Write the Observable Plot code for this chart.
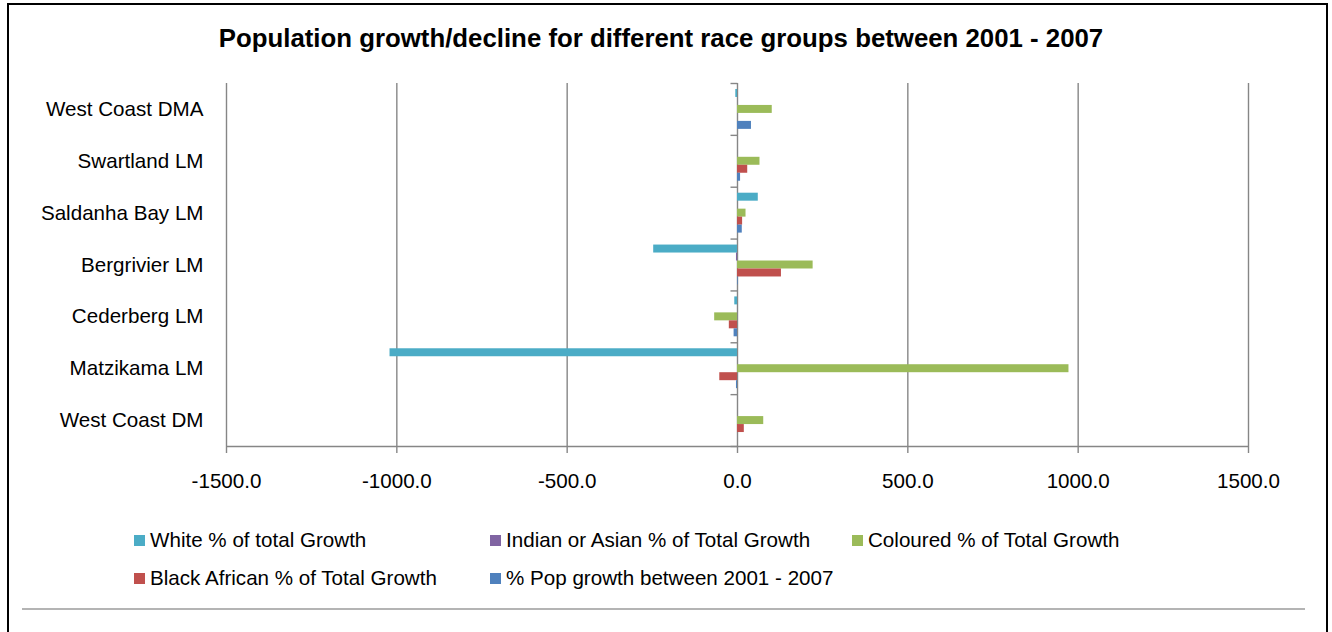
<!DOCTYPE html>
<html>
<head>
<meta charset="utf-8">
<script src="https://cdn.jsdelivr.net/npm/d3@7"></script>
<script src="https://cdn.jsdelivr.net/npm/@observablehq/plot@0.6"></script>
<style>
  body { margin: 0; background: #fff; font-family: "Liberation Sans", Arial, sans-serif; }
  #page { position: relative; width: 1332px; height: 632px; overflow: hidden; background: #fff; }
  #border { position: absolute; left: 7px; top: 3px; width: 1321px; height: 700px; border: 2px solid #000; box-sizing: border-box; pointer-events: none; }
  #title { position: absolute; left: 0; top: 23px; width: 1322px; text-align: center; font-weight: bold; font-size: 25.8px; color: #000; line-height: 30px; }
  #chart { position: absolute; left: 0; top: 60px; }
  #legend { position: absolute; left: 134px; top: 521px; display: grid; grid-template-columns: 356px 362px auto; grid-auto-rows: 38px; font-size: 20.6px; color: #000; }
  #legend .item { display: flex; align-items: center; white-space: nowrap; }
  #legend .sw { width: 11px; height: 11px; margin-right: 5px; flex: none; }
  #rule { position: absolute; left: 22px; top: 608px; width: 1283px; height: 2px; background: #b4b4b4; }
</style>
</head>
<body>
<div id="page">
  <div id="title">Population growth/decline for different race groups between 2001 - 2007</div>
  <div id="chart"></div>
  <div id="legend"></div>
  <div id="rule"></div>
  <div id="border"></div>
</div>
<script>
// Municipalities, top to bottom
const categories = ["West Coast DMA", "Swartland LM", "Saldanha Bay LM", "Bergrivier LM", "Cederberg LM", "Matzikama LM", "West Coast DM"];

// Series names and colours
const series = [
  "White % of total Growth",
  "Indian or Asian % of Total Growth",
  "Coloured % of Total Growth",
  "Black African % of Total Growth",
  "% Pop growth between 2001 - 2007"
];
const seriesColors = ["#4BACC6", "#8064A2", "#9BBB59", "#C0504D", "#4F81BD"];

// Values per series, in category order
const white    = [-5, 0, 61, -246, -8, -1020, 0];
const indian   = [0, 0, 0, -3, 0, 0, 0];
const coloured = [102, 66, 25, 222, -67, 973, 77];
const black    = [0, 30, 15, 129, -24, -52, 20];
const popGrowth = [41, 9, 14, 2, -10, -3, 0];

const xTicks = [-1500, -1000, -500, 0, 500, 1000, 1500];

const valuesBySeries = [white, indian, coloured, black, popGrowth];

// Each category band holds the five bars plus an outer gap of 0.75 bar on each side
const outerGap = 0.75;
const slots = series.length + 2 * outerGap;
const rows = [];
categories.forEach((cat, i) => {
  series.forEach((s, j) => {
    const y1 = i + (outerGap + j) / slots;
    rows.push({category: cat, series: s, value: valuesBySeries[j][i], y1, y2: y1 + 1 / slots});
  });
});

const gray = "#868686";
const fontSize = 20.6;

// Short left-pointing tick drawn at each category boundary on the zero axis
const leftTick = {
  draw(context, size) {
    const l = Math.sqrt(size / Math.PI);
    context.moveTo(-l, 0);
    context.lineTo(0, 0);
  }
};

const chart = Plot.plot({
  width: 1332,
  height: 436,
  marginLeft: 226,
  marginRight: 84,
  marginTop: 23,
  marginBottom: 50,
  style: {fontFamily: '"Liberation Sans", Arial, sans-serif', color: "#000", background: "transparent"},
  x: {domain: [-1500, 1500]},
  y: {domain: [0, categories.length], reverse: true},
  color: {domain: series, range: seriesColors},
  marks: [
    Plot.ruleX(xTicks, {stroke: gray, strokeWidth: 1.4}),
    Plot.ruleY([categories.length], {stroke: gray, strokeWidth: 1.4}),
    Plot.dot(d3.range(categories.length + 1), {x: () => 0, y: d => d, symbol: leftTick, r: 7, fill: "none", stroke: gray, strokeWidth: 1.4}),
    Plot.rect(rows, {x1: 0, x2: "value", y1: "y1", y2: "y2", fill: "series"}),
    Plot.axisX({ticks: xTicks, tickFormat: d => d.toFixed(1), tickSize: 7, tickPadding: 20, fontSize, stroke: gray, strokeWidth: 1.4, label: null}),
    Plot.axisY({ticks: d3.range(categories.length).map(i => i + 0.5), tickFormat: d => categories[Math.floor(d)], tickSize: 0, tickPadding: 23, fontSize, label: null})
  ]
});
document.getElementById("chart").appendChild(chart);

// Legend, three columns
const legend = document.getElementById("legend");
series.forEach((s, j) => {
  const item = document.createElement("div");
  item.className = "item";
  const sw = document.createElement("span");
  sw.className = "sw";
  sw.style.background = seriesColors[j];
  const label = document.createElement("span");
  label.textContent = s;
  item.appendChild(sw);
  item.appendChild(label);
  legend.appendChild(item);
});
</script>
</body>
</html>
